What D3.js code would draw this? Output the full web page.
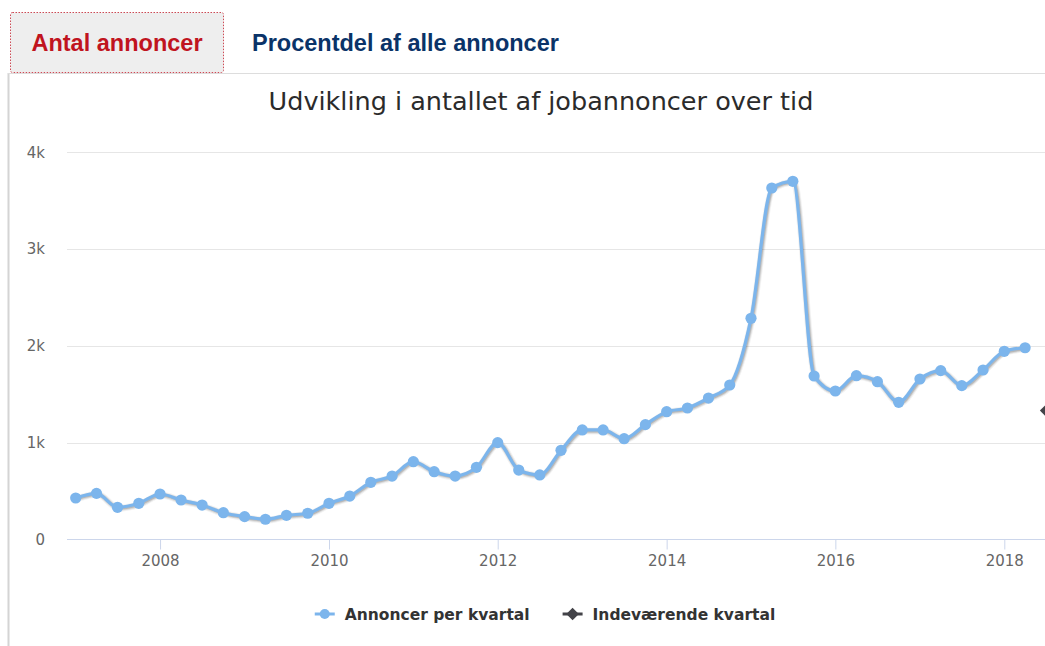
<!DOCTYPE html>
<html>
<head>
<meta charset="utf-8">
<script src="https://cdn.jsdelivr.net/npm/d3@7"></script>
<style>
  html, body { margin: 0; padding: 0; background: #fff; overflow: hidden; }
  svg { display: block; }
</style>
</head>
<body>
<svg id="chart" width="1045" height="646"></svg>
<script>
// Quarterly job-ad counts, first quarter of 2007 onwards
const firstQuarter = "2007-01-01";
const adsPerQuarter = [
  427, 475, 331, 372,      // 2007
  468, 406, 354, 275,      // 2008
  234, 207, 248, 269,      // 2009
  372, 447, 589, 654,      // 2010
  802, 699, 654, 744,      // 2011
  999, 716, 665, 920,      // 2012
  1130, 1130, 1040, 1185,  // 2013
  1319, 1357, 1460, 1595,  // 2014
  2284, 3631, 3700, 1688,  // 2015
  1533, 1691, 1629, 1416,  // 2016
  1657, 1743, 1588, 1750,  // 2017
  1943, 1980               // 2018
];
// Current (incomplete) quarter
const currentQuarterDate = ["2018-07-01"];
const currentQuarterValue = [1330];

const tabLabels = ["Antal annoncer", "Procentdel af alle annoncer"];
const chartTitle = "Udvikling i antallet af jobannoncer over tid";
const seriesNames = ["Annoncer per kvartal", "Indeværende kvartal"];
const yTickValues = [0, 1000, 2000, 3000, 4000];
const yTickLabels = ["0", "1k", "2k", "3k", "4k"];
const xTickYears = [2008, 2010, 2012, 2014, 2016, 2018];

const parse = d3.timeParse("%Y-%m-%d");
const start = parse(firstQuarter);
const series = adsPerQuarter.map((v, i) => ({ date: d3.timeMonth.offset(start, i * 3), value: v }));
const current = currentQuarterDate.map((d, i) => ({ date: parse(d), value: currentQuarterValue[i] }));

const svg = d3.select("#chart");
const W = 1045, H = 646;

// ---- tabs ----
svg.append("line")
  .attr("x1", 8.5).attr("x2", 8.5).attr("y1", 73).attr("y2", H)
  .attr("stroke", "#d4d4d4").attr("stroke-width", 2);
svg.append("line")
  .attr("x1", 8).attr("x2", W).attr("y1", 73.5).attr("y2", 73.5)
  .attr("stroke", "#dddddd").attr("stroke-width", 1);
svg.append("rect")
  .attr("x", 10.5).attr("y", 12.5).attr("width", 213).attr("height", 60).attr("rx", 2)
  .attr("fill", "#eeeeee")
  .attr("stroke", "#cc4a55").attr("stroke-width", 1).attr("stroke-dasharray", "1.5,1.5");
svg.append("text")
  .attr("x", 117).attr("y", 51).attr("text-anchor", "middle")
  .attr("font-family", "'Liberation Sans', Arial, sans-serif")
  .attr("font-weight", "bold").attr("font-size", "23.5px")
  .attr("fill", "#c0141e").text(tabLabels[0]);
svg.append("text")
  .attr("x", 252).attr("y", 51)
  .attr("font-family", "'Liberation Sans', Arial, sans-serif")
  .attr("font-weight", "bold").attr("font-size", "23.5px")
  .attr("fill", "#0a3368").text(tabLabels[1]);

// ---- title ----
svg.append("text")
  .attr("x", 541).attr("y", 110).attr("text-anchor", "middle")
  .attr("font-family", "'DejaVu Sans', Verdana, sans-serif")
  .attr("font-size", "25.5px").attr("fill", "#2b2b2b")
  .text(chartTitle);

// ---- scales ----
const x = d3.scaleTime()
  .domain([parse("2007-01-01"), parse("2018-01-01")])
  .range([75.7, 1004.3]);
const y = d3.scaleLinear().domain([0, 4000]).range([539.3, 152.3]);
const plotLeft = 67, plotRight = W + 20;

// gridlines
svg.append("g").selectAll("line").data(yTickValues.filter(v => v > 0)).join("line")
  .attr("x1", plotLeft).attr("x2", plotRight)
  .attr("y1", d => Math.round(y(d)) + 0.5).attr("y2", d => Math.round(y(d)) + 0.5)
  .attr("stroke", "#e6e6e6").attr("stroke-width", 1);

// y labels
const yAxis = d3.axisLeft(y).tickValues(yTickValues)
  .tickFormat((d, i) => yTickLabels[i]).tickSize(0).tickPadding(0);
const gy = svg.append("g").attr("transform", "translate(45,0)").call(yAxis);
gy.select(".domain").remove();
gy.selectAll("text")
  .attr("font-family", "'DejaVu Sans', Verdana, sans-serif")
  .attr("font-size", "15px").attr("fill", "#666666");

// x axis
const xAxis = d3.axisBottom(x)
  .tickValues(xTickYears.map(yr => new Date(yr, 0, 1)))
  .tickFormat(d3.timeFormat("%Y")).tickSize(10).tickPadding(6).tickSizeOuter(0);
const gx = svg.append("g").attr("transform", `translate(0,${Math.round(y(0)) + 0.5})`).call(xAxis);
gx.select(".domain").attr("d", `M${plotLeft},0H${plotRight}`).attr("stroke", "#ccd6eb");
gx.selectAll(".tick line").attr("stroke", "#ccd6eb");
gx.selectAll("text")
  .attr("font-family", "'DejaVu Sans', Verdana, sans-serif")
  .attr("font-size", "15px").attr("fill", "#666666");

// ---- series ----
const line = d3.line().x(d => x(d.date)).y(d => y(d.value)).curve(d3.curveMonotoneX);
const plot = svg.append("g");

// soft shadow beneath the line
[[7, 0.05], [5, 0.1], [3, 0.15]].forEach(([w, o]) => {
  plot.append("path").datum(series)
    .attr("d", line).attr("transform", "translate(1,1)")
    .attr("fill", "none").attr("stroke", "#000").attr("stroke-opacity", o)
    .attr("stroke-width", w).attr("stroke-linejoin", "round").attr("stroke-linecap", "round");
});
plot.append("path").datum(series)
  .attr("d", line).attr("fill", "none")
  .attr("stroke", "#7cb5ec").attr("stroke-width", 3.2)
  .attr("stroke-linejoin", "round").attr("stroke-linecap", "round");
plot.append("g").selectAll("circle").data(series).join("circle")
  .attr("cx", d => x(d.date)).attr("cy", d => y(d.value)).attr("r", 5.6)
  .attr("fill", "#7cb5ec");

// current quarter marker
const diamond = d3.symbol().type(d3.symbolDiamond2).size(100);
plot.append("g").selectAll("path").data(current).join("path")
  .attr("d", diamond)
  .attr("transform", d => `translate(${x(d.date)},${y(d.value)})`)
  .attr("fill", "#434348");

// ---- legend ----
const legend = svg.append("g");
const colors = ["#7cb5ec", "#434348"];
let cursor = 0;
seriesNames.forEach((name, i) => {
  const item = legend.append("g").attr("transform", `translate(${cursor},0)`);
  item.append("line").attr("x1", 0).attr("x2", 20).attr("y1", 0).attr("y2", 0)
    .attr("stroke", colors[i]).attr("stroke-width", 3);
  if (i === 0) {
    item.append("circle").attr("cx", 10).attr("cy", 0).attr("r", 5).attr("fill", colors[i]);
  } else {
    item.append("path").attr("d", diamond).attr("transform", "translate(10,0)").attr("fill", colors[i]);
  }
  const t = item.append("text").attr("x", 30).attr("y", 6)
    .attr("font-family", "'DejaVu Sans', Verdana, sans-serif")
    .attr("font-weight", "bold").attr("font-size", "15.5px").attr("fill", "#333333")
    .text(name);
  cursor += 30 + t.node().getComputedTextLength() + 33;
});
const legendWidth = cursor - 33;
legend.attr("transform", `translate(${545 - legendWidth / 2},614)`);
</script>
</body>
</html>
